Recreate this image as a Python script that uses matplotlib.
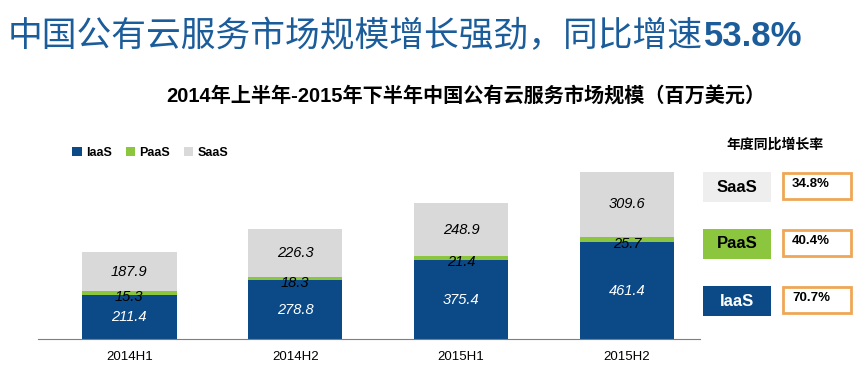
import matplotlib.pyplot as plt
from matplotlib.patches import Rectangle
import numpy as np

plt.rcParams['font.family'] = ['Liberation Sans', 'Noto Sans CJK SC', 'DejaVu Sans']

# data
periods = ["2014H1", "2014H2", "2015H1", "2015H2"]
iaas = [211.4, 278.8, 375.4, 461.4]
paas = [15.3, 18.3, 21.4, 25.7]
saas = [187.9, 226.3, 248.9, 309.6]
growth_names = ["SaaS", "PaaS", "IaaS"]
growth_rates = ["34.8%", "40.4%", "70.7%"]

c_iaas = "#0b4a87"
c_paas = "#8cc63f"
c_saas = "#d9d9d9"
c_title = "#1b5c9a"

W, H = 867, 375
fig = plt.figure(figsize=(W / 100, H / 100), dpi=100)

# main bar chart, placed in pixel coords
left, right, top, bottom = 38, 700, 129, 339
ax = fig.add_axes([left / W, 1 - bottom / H, (right - left) / W, (bottom - top) / H])
x = np.arange(len(periods))
w = 0.57
b1 = ax.bar(x, iaas, w, color=c_iaas, label="IaaS")
b2 = ax.bar(x, paas, w, bottom=iaas, color=c_paas, label="PaaS")
b3 = ax.bar(x, saas, w, bottom=np.add(iaas, paas), color=c_saas, label="SaaS")

ax.bar_label(b1, labels=[f"{v:.1f}" for v in iaas], label_type="center",
             color="white", fontsize=10.5, fontstyle="italic")
ax.bar_label(b2, labels=[f"{v:.1f}" for v in paas], label_type="center",
             color="black", fontsize=10.5, fontstyle="italic", padding=-3)
ax.bar_label(b3, labels=[f"{v:.1f}" for v in saas], label_type="center",
             color="black", fontsize=10.5, fontstyle="italic")

ax.set_xlim(-0.55, 3.44)
ax.set_ylim(0, 1000)
ax.set_xticks(x)
ax.set_xticklabels(periods, fontsize=9.5)
ax.tick_params(axis="x", length=0, pad=9)
ax.set_yticks([])
for s in ["top", "right", "left"]:
    ax.spines[s].set_visible(False)
ax.spines["bottom"].set_color("#7f7f7f")

ax.legend(loc="upper left", bbox_to_anchor=(0.035, 0.97), ncol=3, frameon=False,
          prop={"size": 9, "weight": "bold"}, handlelength=0.75, handleheight=0.75,
          handletextpad=0.35, columnspacing=1.1)

# titles
t1 = fig.text(8 / W, 1 - 37 / H, "中国公有云服务市场规模增长强劲，同比增速", fontsize=25,
              color=c_title, va="center", ha="left")
fig.add_artist(plt.Annotation("53.8%", xy=(1, 0.5), xycoords=t1, xytext=(1, 0),
                              textcoords="offset points", fontsize=25, fontweight="bold",
                              color=c_title, va="center", ha="left"))
fig.text(466 / W, 1 - 97 / H, "2014年上半年-2015年下半年中国公有云服务市场规模（百万美元）",
         fontsize=14.5, fontweight="bold", color="black", va="center", ha="center")

# growth rate panel
pax = fig.add_axes([0, 0, 1, 1])
pax.set_xlim(0, W)
pax.set_ylim(H, 0)
pax.axis("off")
pax.text(775, 145, "年度同比增长率", fontsize=10, fontweight="bold", ha="center", va="center")
box_fill = {"SaaS": "#eeeeee", "PaaS": c_paas, "IaaS": c_iaas}
box_text = {"SaaS": "black", "PaaS": "black", "IaaS": "white"}
for i, (name, rate) in enumerate(zip(growth_names, growth_rates)):
    y0 = 172 + i * 57
    pax.add_patch(Rectangle((703, y0), 68, 30, facecolor=box_fill[name], edgecolor="none"))
    pax.text(737, y0 + 15, name, fontsize=12, fontweight="bold", color=box_text[name],
             ha="center", va="center")
    pax.add_patch(Rectangle((783, y0 + 1), 68, 26, facecolor="white",
                            edgecolor="#f0a755", linewidth=2))
    pax.text(792, y0 + 12, rate, fontsize=9.5, fontweight="bold", ha="left", va="center")

fig.savefig("out.png", dpi=100)
